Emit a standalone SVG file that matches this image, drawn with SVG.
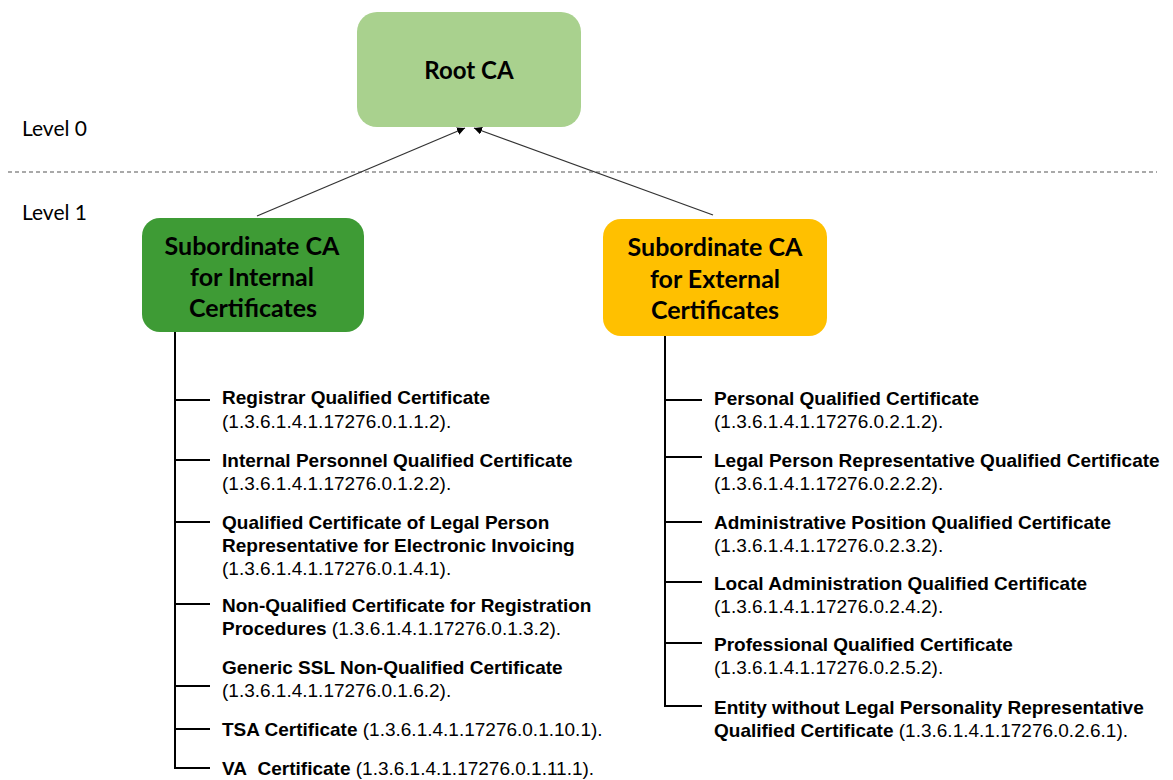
<svg xmlns="http://www.w3.org/2000/svg" width="1173" height="780" viewBox="0 0 1173 780">
<style>
.box{font-family:Lato,"Open Sans","DejaVu Sans",sans-serif;font-weight:bold;fill:#000;text-anchor:middle}
.lvl{font-family:Lato,"Open Sans","DejaVu Sans",sans-serif;font-size:21px;fill:#000}
.item{font-family:"Liberation Sans",Arial,sans-serif;font-size:19px;fill:#000}
.b{font-weight:bold}
.tree{stroke:#000;stroke-width:2;fill:none}
.arrow{stroke:#333;stroke-width:1.3;fill:none;marker-end:url(#ah)}
</style>
<defs>
<marker id="ah" viewBox="0 0 10 10" refX="10" refY="5" markerWidth="8" markerHeight="8" markerUnits="userSpaceOnUse" orient="auto">
<path d="M0,0 L10,5 L0,10 z" fill="#000"/>
</marker>
</defs>
<rect width="1173" height="780" fill="#fff"/>
<line x1="8" y1="172" x2="1157" y2="172" stroke="#555" stroke-width="1.2" stroke-dasharray="4,3"/>
<text class="lvl" x="22" y="136">Level 0</text>
<text class="lvl" x="22" y="220">Level 1</text>
<g id="root">
<rect x="357" y="12" width="224" height="115" rx="20" fill="#a9d18e"/>
<text class="box" x="469" y="79" font-size="24">Root CA</text>
</g>
<g id="sub-internal">
<rect x="142" y="218" width="222" height="114" rx="18" fill="#3e9b35"/>
<text class="box" x="252" y="255" font-size="25">Subordinate CA</text>
<text class="box" x="252" y="286" font-size="25">for Internal</text>
<text class="box" x="253" y="317" font-size="25">Certificates</text>
</g>
<g id="sub-external">
<rect x="603" y="219" width="224" height="117" rx="18" fill="#ffc000"/>
<text class="box" x="715" y="256" font-size="25">Subordinate CA</text>
<text class="box" x="715" y="288" font-size="25">for External</text>
<text class="box" x="715" y="319" font-size="25">Certificates</text>
</g>
<g id="connectors">
<line class="arrow" x1="257" y1="216" x2="465" y2="128"/>
<line class="arrow" x1="713" y1="215" x2="474" y2="128"/>
<path class="tree" d="M175,332 V768 H210 M175,400 H210 M175,460 H210 M175,522 H210 M175,604 H210 M175,686 H210 M175,729 H210"/>
<path class="tree" d="M665,336 V706 H702 M665,400 H702 M665,457 H702 M665,522 H702 M665,582 H702 M665,643 H702"/>
</g>
<g id="internal-items">
<text class="item b" x="222" y="404">Registrar Qualified Certificate</text>
<text class="item" x="222" y="428">(1.3.6.1.4.1.17276.0.1.1.2).</text>
<text class="item b" x="222" y="467">Internal Personnel Qualified Certificate</text>
<text class="item" x="222" y="490">(1.3.6.1.4.1.17276.0.1.2.2).</text>
<text class="item b" x="222" y="529">Qualified Certificate of Legal Person</text>
<text class="item b" x="222" y="552">Representative for Electronic Invoicing</text>
<text class="item" x="222" y="575">(1.3.6.1.4.1.17276.0.1.4.1).</text>
<text class="item b" x="222" y="612">Non-Qualified Certificate for Registration</text>
<text class="item" x="222" y="635"><tspan class="b">Procedures</tspan> (1.3.6.1.4.1.17276.0.1.3.2).</text>
<text class="item b" x="222" y="674">Generic SSL Non-Qualified Certificate</text>
<text class="item" x="222" y="697">(1.3.6.1.4.1.17276.0.1.6.2).</text>
<text class="item" x="222" y="736"><tspan class="b">TSA Certificate</tspan> (1.3.6.1.4.1.17276.0.1.10.1).</text>
<text class="item" x="222" y="775"><tspan class="b">VA&#160; Certificate</tspan> (1.3.6.1.4.1.17276.0.1.11.1).</text>
</g>
<g id="external-items">
<text class="item b" x="714" y="405">Personal Qualified Certificate</text>
<text class="item" x="714" y="428">(1.3.6.1.4.1.17276.0.2.1.2).</text>
<text class="item b" x="714" y="467">Legal Person Representative Qualified Certificate</text>
<text class="item" x="714" y="490">(1.3.6.1.4.1.17276.0.2.2.2).</text>
<text class="item b" x="714" y="529">Administrative Position Qualified Certificate</text>
<text class="item" x="714" y="552">(1.3.6.1.4.1.17276.0.2.3.2).</text>
<text class="item b" x="714" y="590">Local Administration Qualified Certificate</text>
<text class="item" x="714" y="613">(1.3.6.1.4.1.17276.0.2.4.2).</text>
<text class="item b" x="714" y="651">Professional Qualified Certificate</text>
<text class="item" x="714" y="674">(1.3.6.1.4.1.17276.0.2.5.2).</text>
<text class="item b" x="714" y="714">Entity without Legal Personality Representative</text>
<text class="item" x="714" y="737"><tspan class="b">Qualified Certificate</tspan> (1.3.6.1.4.1.17276.0.2.6.1).</text>
</g>
</svg>
